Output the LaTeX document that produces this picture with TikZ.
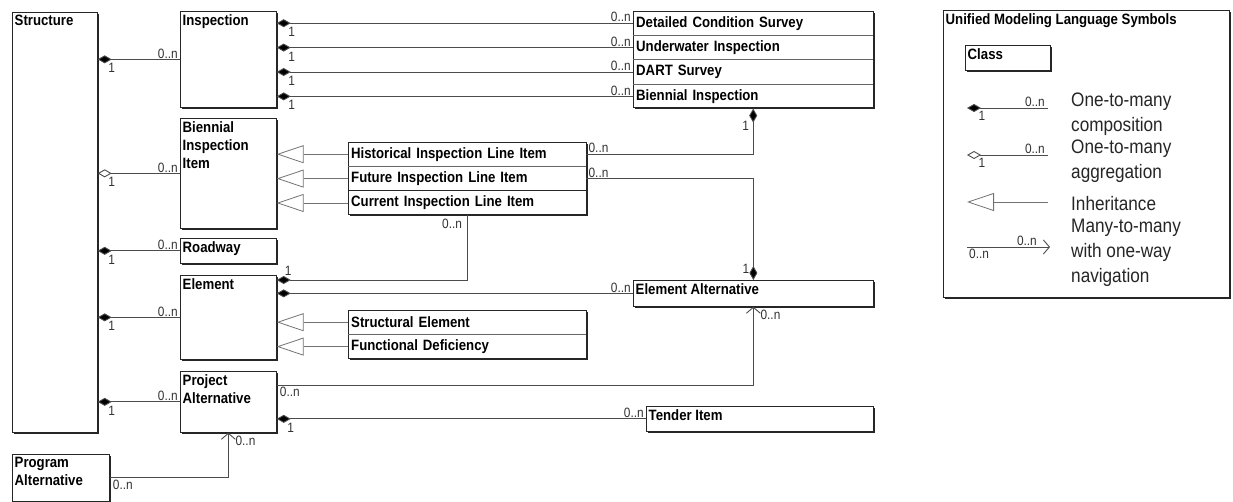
\documentclass[tikz,border=0pt]{standalone}
\usepackage{fontspec}
\setmainfont{Liberation Sans}
\newfontfamily\umlfont[FakeStretch=0.88]{Liberation Sans}
\usetikzlibrary{arrows.meta,positioning,shadows}

\newcommand{\boxfont}{\umlfont\bfseries\fontsize{15}{18}\selectfont}
\newcommand{\multfont}{\umlfont\fontsize{13.5}{15}\selectfont}
\newcommand{\legfont}{\umlfont\fontsize{19.5}{25}\selectfont}

\tikzset{
  umlbox/.style={draw=black!85, line width=0.7pt, fill=white, anchor=north west, inner sep=0pt,
    drop shadow={shadow xshift=1.3pt, shadow yshift=-1.3pt, opacity=1, fill=black!85}},
  umltitle/.style={anchor=north west, inner xsep=2.5pt, inner ysep=3pt, align=left, font=\boxfont},
  umlrow/.style={anchor=north west, inner xsep=3pt, inner ysep=0pt, minimum height=24pt,
    align=left, font=\boxfont},
  rowsep/.style={draw=black!60, line width=0.6pt},
  mult/.style={inner sep=1pt, text=black!80, font=\multfont},
  link/.style={draw=black!70, line width=0.9pt},
  comp/.style={link, {Diamond[length=14pt,width=8pt,fill=black]}-},
  compto/.style={link, -{Diamond[length=14pt,width=8pt,fill=black]}},
  aggr/.style={link, {Diamond[open,length=14pt,width=8pt,fill=white]}-},
  inherit/.style={draw=black!55, line width=0.8pt, {Triangle[open,length=27pt,width=18pt,fill=white]}-},
  navig/.style={link, -{Straight Barb[length=6pt,width=14pt]}},
  legtext/.style={anchor=west, inner sep=0pt, align=left, text=black!85, font=\legfont}
}

\begin{document}
\begin{tikzpicture}[x=1pt, y=-1pt]
\useasboundingbox (0,0) rectangle (1233,502);

% left column of classes
\node[umlbox, minimum width=85pt, minimum height=420pt] (structure) at (12,12) {};
\node[umltitle] (structure-t) at (structure.north west) {Structure};
\node[umlbox, minimum width=96pt, minimum height=96pt] (insp) at (180,11) {};
\node[umltitle] (insp-t) at (insp.north west) {Inspection};
\node[umlbox, minimum width=96pt, minimum height=110pt] (bii) at (180,118) {};
\node[umltitle] (bii-t) at (bii.north west) {Biennial\\Inspection\\Item};
\node[umlbox, minimum width=96pt, minimum height=25pt] (road) at (180,238) {};
\node[umltitle] (road-t) at (road.north west) {Roadway};
\node[umlbox, minimum width=96pt, minimum height=84pt] (elem) at (180,275) {};
\node[umltitle] (elem-t) at (elem.north west) {Element};
\node[umlbox, minimum width=96pt, minimum height=61pt] (proj) at (180,371) {};
\node[umltitle] (proj-t) at (proj.north west) {Project\\Alternative};
\node[umlbox, minimum width=97pt, minimum height=47pt] (prog) at (12,454) {};
\node[umltitle] (prog-t) at (prog.north west) {Program\\Alternative};

% inspection kinds
\node[umlbox, minimum width=240pt, minimum height=96pt] (survey) at (633,11) {};
\node[umlrow, text width=234pt] (dcs) at (survey.north west) {Detailed Condition Survey};
\node[umlrow, text width=234pt, below=0pt of dcs] (uwi) {Underwater Inspection};
\node[umlrow, text width=234pt, below=0pt of uwi] (dart) {DART Survey};
\node[umlrow, text width=234pt, below=0pt of dart] (bi) {Biennial Inspection};
\foreach \r in {uwi,dart,bi}
  \draw[rowsep] (\r.north west) -- (\r.north east);

% line items
\node[umlbox, minimum width=238pt, minimum height=72pt] (items) at (348,142) {};
\node[umlrow, text width=232pt] (hist) at (items.north west) {Historical Inspection Line Item};
\node[umlrow, text width=232pt, below=0pt of hist] (fut) {Future Inspection Line Item};
\node[umlrow, text width=232pt, below=0pt of fut] (cur) {Current Inspection Line Item};
\draw[rowsep] (fut.north west) -- (fut.north east);
\draw[black!85, line width=0.9pt] (cur.north west) -- (cur.north east);

% element kinds
\node[umlbox, minimum width=238pt, minimum height=48pt] (kinds) at (348,310) {};
\node[umlrow, text width=232pt] (struct) at (kinds.north west) {Structural Element};
\node[umlrow, text width=232pt, below=0pt of struct] (func) {Functional Deficiency};
\draw[rowsep] (func.north west) -- (func.north east);

\node[umlbox, minimum width=240pt, minimum height=26pt] (ea) at (633,280) {};
\node[umltitle] (ea-t) at (ea.north west) {Element Alternative};
\node[umlbox, minimum width=227pt, minimum height=25pt] (tender) at (646,406) {};
\node[umltitle] (tender-t) at (tender.north west) {Tender Item};

% structure to its parts
\foreach \b in {insp,road,elem,proj}{
  \draw[comp] (structure.east |- \b.west) -- (\b.west);
  \node[mult, anchor=north] (\b-one) at ([xshift=14pt,yshift=-3pt]structure.east |- \b.west) {1};
  \node[mult, anchor=south east] (\b-many) at ([xshift=-1pt]\b.west) {0..n};
}
\draw[aggr] (structure.east |- bii.west) -- (bii.west);
\node[mult, anchor=north] (bii-one) at ([xshift=14pt,yshift=-3pt]structure.east |- bii.west) {1};
\node[mult, anchor=south east] (bii-many) at ([xshift=-1pt]bii.west) {0..n};

% inspection to its kinds
\foreach \r in {dcs,uwi,dart,bi}{
  \draw[comp] (insp.east |- \r.west) -- (\r.west);
  \node[mult, anchor=north] (\r-one) at ([xshift=15pt,yshift=-3pt]insp.east |- \r.west) {1};
  \node[mult, anchor=south east] (\r-many) at ([xshift=-1pt]\r.west) {0..n};
}

% inheritance
\foreach \r in {hist,fut,cur}
  \draw[inherit] (bii.east |- \r.west) -- (\r.west);
\foreach \r in {struct,func}
  \draw[inherit] (elem.east |- \r.west) -- (\r.west);

% line item associations
\draw[comp] (bi.south) |- (hist.east);
\node[mult, anchor=east] (bi-down) at ([xshift=-3pt,yshift=-17pt]bi.south) {1};
\node[mult, anchor=south west] (hist-many) at ([xshift=1pt]hist.east) {0..n};
\draw[compto] (fut.east) -| (ea.north);
\node[mult, anchor=east] (ea-one) at ([xshift=-3pt,yshift=11pt]ea.north) {1};
\node[mult, anchor=south west] (fut-many) at ([xshift=1pt]fut.east) {0..n};
\draw[comp] ([yshift=-5pt]elem.north east) -| (cur.south);
\node[mult, anchor=south west] (elem-top) at ([xshift=7pt,yshift=-2pt]elem.north east) {1};
\node[mult, anchor=north east] (cur-many) at ([xshift=-4pt,yshift=-3pt]cur.south) {0..n};

% alternatives
\draw[comp] (elem.east |- ea.west) -- (ea.west);
\node[mult, anchor=south east] (ea-many) at ([xshift=-1pt]ea.west) {0..n};
\draw[navig] ([yshift=-14pt]proj.north east) -| (ea.south);
\node[mult, anchor=north west] (proj-nav) at ([xshift=2pt,yshift=-15pt]proj.north east) {0..n};
\node[mult, anchor=north west] (ea-nav) at ([xshift=6pt,yshift=-2pt]ea.south) {0..n};
\draw[comp] (proj.east |- tender.west) -- (tender.west);
\node[mult, anchor=north] (tender-one) at ([xshift=14pt,yshift=-3pt]proj.east |- tender.west) {1};
\node[mult, anchor=south east] (tender-many) at ([xshift=-1pt]tender.west) {0..n};
\draw[navig] (prog.east) -| (proj.south);
\node[mult, anchor=north west] (prog-nav) at ([xshift=2pt,yshift=-1pt]prog.east) {0..n};
\node[mult, anchor=north west] (proj-up) at ([xshift=6pt,yshift=-2pt]proj.south) {0..n};

% legend
\node[umlbox, minimum width=286pt, minimum height=287pt] (legend) at (943,10) {};
\node[umltitle] (legend-t) at (legend.north west) {Unified Modeling Language Symbols};
\node[umlbox, minimum width=85pt, minimum height=25pt] (class) at (965,45) {};
\node[umltitle] (class-t) at (class.north west) {Class};

\coordinate (lc-a) at (967,108);  \coordinate (lc-b) at (1048,108);
\coordinate (la-a) at (967,155);  \coordinate (la-b) at (1048,155);
\coordinate (li-a) at (967,202);  \coordinate (li-b) at (1048,202);
\coordinate (ln-a) at (967,247);  \coordinate (ln-b) at (1050,247);
\draw[comp] (lc-a) -- (lc-b);
\node[mult, anchor=south east] (lc-many) at ([xshift=-2pt]lc-b) {0..n};
\node[mult, anchor=north] (lc-one) at ([xshift=15pt,yshift=-2pt]lc-a) {1};
\draw[aggr] (la-a) -- (la-b);
\node[mult, anchor=south east] (la-many) at ([xshift=-2pt]la-b) {0..n};
\node[mult, anchor=north] (la-one) at ([xshift=15pt,yshift=-2pt]la-a) {1};
\draw[inherit] (li-a) -- (li-b);
\draw[navig] (ln-a) -- (ln-b);
\node[mult, anchor=south east] (ln-to) at ([xshift=-12pt]ln-b) {0..n};
\node[mult, anchor=north west] (ln-from) at ([xshift=1pt,yshift=-1pt]ln-a) {0..n};

\node[legtext] (lt-comp) at (1071,114) {One-to-many\\composition};
\node[legtext] (lt-aggr) at (1071,161) {One-to-many\\aggregation};
\node[legtext] (lt-inh) at (1071,204) {Inheritance};
\node[legtext] (lt-nav) at (1071,253) {Many-to-many\\with one-way\\navigation};
\end{tikzpicture}
\end{document}
